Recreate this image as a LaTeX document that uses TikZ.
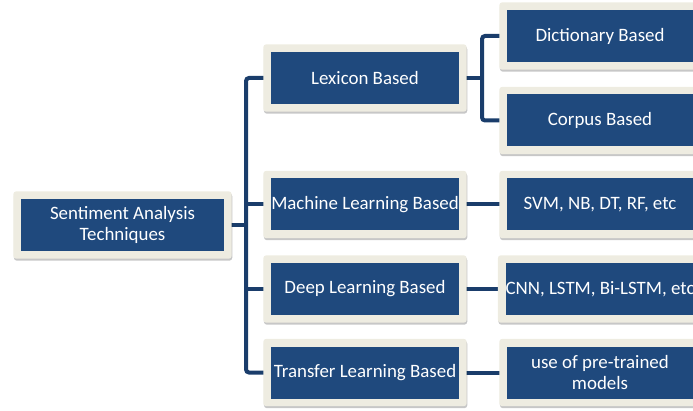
\documentclass[tikz,border=0pt]{standalone}
\usepackage{fontspec}
\setmainfont{Carlito}
\usetikzlibrary{fit,backgrounds,shadows}
\definecolor{boxblue}{RGB}{31,73,125}
\definecolor{boxrim}{RGB}{238,236,225}
\definecolor{linkblue}{RGB}{26,61,107}
\tikzset{
  core/.style={fill=boxblue, text=white, inner sep=0pt, minimum height=52pt,
    align=center, font=\fontsize{18.9}{20.5}\selectfont},
  rootbox/.style={core, minimum width=203pt},
  midbox/.style={core, minimum width=188pt},
  leafbox/.style={core, minimum width=186pt},
  rim/.style={fill=boxrim, rounded corners=3pt, inner sep=7.5pt,
    drop shadow={shadow xshift=0.6pt, shadow yshift=-2pt, opacity=0.22, fill=black}},
  link/.style={draw=linkblue, line width=4pt, rounded corners=3pt},
}
\begin{document}
\begin{tikzpicture}[x=1pt,y=1pt]
\useasboundingbox (0,0) rectangle (693,410);
\clip (0,0) rectangle (693,410);

% root
\node[rootbox] (root) at (122.5,185) {Sentiment Analysis\\Techniques};

% technique families
\node[midbox] (lex) at (365,332)   {Lexicon Based};
\node[midbox] (ml)  at (365,205.5) {Machine Learning Based};
\node[midbox] (dl)  at (365,121)   {Deep Learning Based};
\node[midbox] (tl)  at (365,37.5)  {Transfer Learning Based};

% examples
\node[leafbox] (dict) at (600,374)   {Dictionary Based};
\node[leafbox] (corp) at (600,289.5) {Corpus Based};
\node[leafbox] (mlx)  at (600,205.5) {SVM, NB, DT, RF, etc};
\node[leafbox] (dlx)  at (600,121)   {CNN, LSTM, Bi-LSTM, etc};
\node[leafbox] (tlx)  at (600,37.5)  {use of pre-trained\\models};

\coordinate (trunk) at (246,185);
\coordinate (lexfork) at (482,332);

\begin{scope}[on background layer]
  % connectors
  \draw[link] (root.east) -- (trunk);
  \draw[link] (lex.west) -| (trunk) |- (tl.west);
  \draw[link] (trunk |- ml.west) -- (ml.west);
  \draw[link] (trunk |- dl.west) -- (dl.west);
  \draw[link] (lex.east) -- (lexfork);
  \draw[link] (dict.west) -| (lexfork) |- (corp.west);
  \draw[link] (ml.east) -- (mlx.west);
  \draw[link] (dl.east) -- (dlx.west);
  \draw[link] (tl.east) -- (tlx.west);
  % frames
  \node[rim, fit=(root)] (root-rim) {};
  \node[rim, fit=(lex)]  (lex-rim)  {};
  \node[rim, fit=(ml)]   (ml-rim)   {};
  \node[rim, fit=(dl)]   (dl-rim)   {};
  \node[rim, fit=(tl)]   (tl-rim)   {};
  \node[rim, fit=(dict)] (dict-rim) {};
  \node[rim, fit=(corp)] (corp-rim) {};
  \node[rim, fit=(mlx)]  (mlx-rim)  {};
  \node[rim, fit=(dlx)]  (dlx-rim)  {};
  \node[rim, fit=(tlx)]  (tlx-rim)  {};
\end{scope}
\end{tikzpicture}
\end{document}
